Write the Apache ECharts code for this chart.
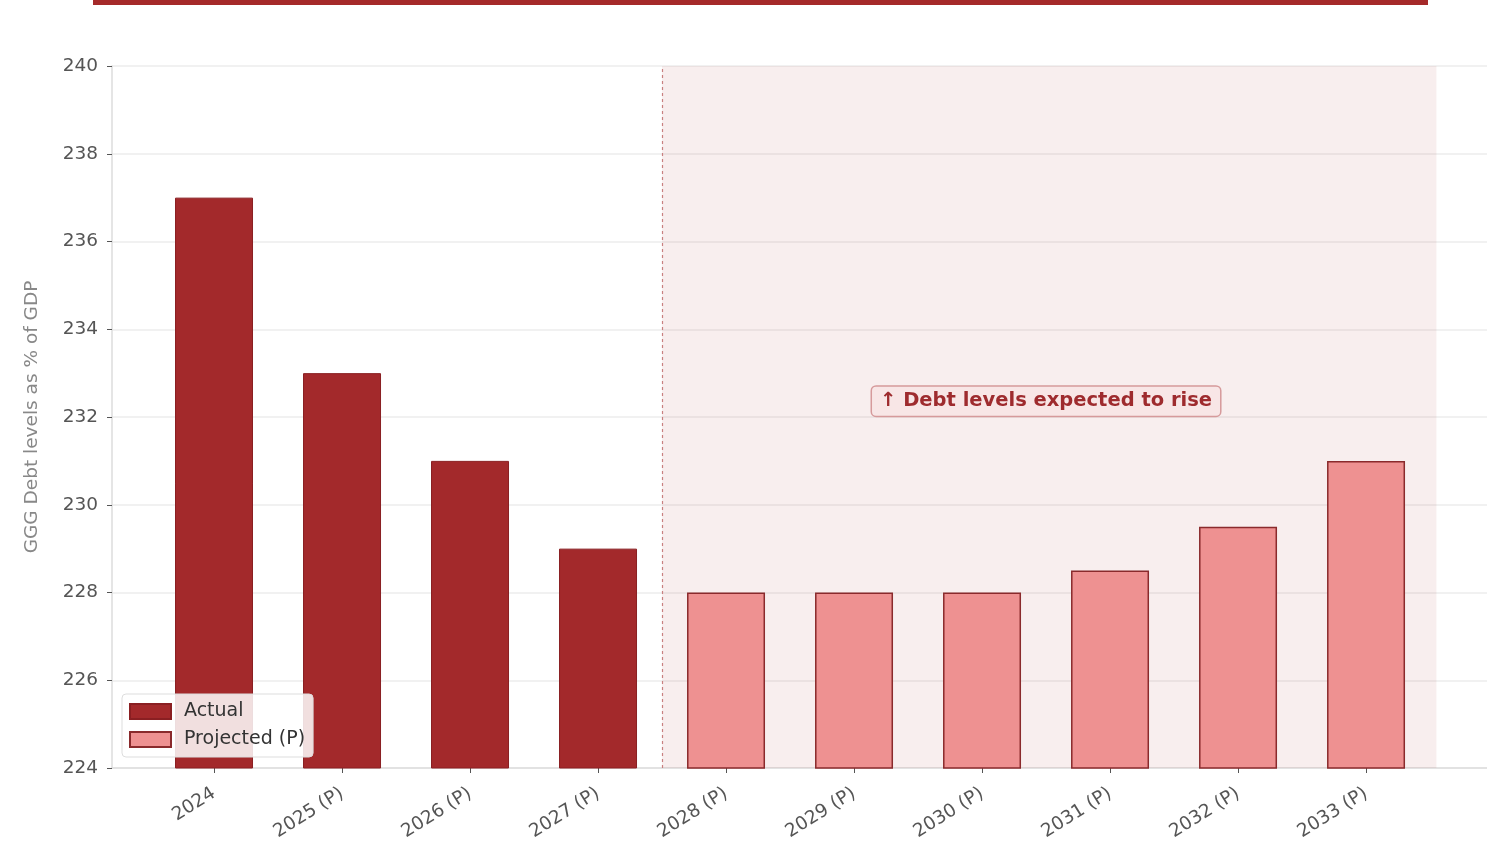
<!DOCTYPE html>
<html>
<head>
<meta charset="utf-8">
<script src="https://cdn.jsdelivr.net/npm/echarts@6/dist/echarts.min.js"></script>
<style>html,body{margin:0;padding:0;background:#fff;}#c{width:1487px;height:849px;}</style>
</head>
<body>
<div id="c"></div>
<script>
const categories = ['2024','2025 (P)','2026 (P)','2027 (P)','2028 (P)','2029 (P)','2030 (P)','2031 (P)','2032 (P)','2033 (P)'];
const values = [237, 233, 231, 229, 228, 228, 228, 228.5, 229.5, 231];
const actualCount = 4;
const yTicks = [224, 226, 228, 230, 232, 234, 236, 238, 240];
const annotationText = '↑ Debt levels expected to rise';
const yTitle = 'GGG Debt levels as % of GDP';

const actualData = [], projData = [];
values.forEach((v, i) => { (i < actualCount ? actualData : projData).push([i, v]); });
const idx = categories.map((_, i) => i);

const chart = echarts.init(document.getElementById('c'));
const font = 'DejaVu Sans';
chart.setOption({
  animation: false,
  textStyle: { fontFamily: font },
  graphic: [{ type: 'rect', shape: { x: 93, y: 0, width: 1335, height: 5 }, style: { fill: '#a52a2a' } }],
  grid: { left: 112, right: 0, top: 66, bottom: 81 },
  legend: {
    left: 122, top: 694, orient: 'vertical', itemGap: 9, icon: 'rect',
    itemWidth: 41, itemHeight: 15, padding: [8, 8, 8, 7],
    backgroundColor: 'rgba(255,255,255,0.85)', borderColor: '#dddddd', borderWidth: 1, borderRadius: 4,
    textStyle: { fontSize: 19, color: '#333', fontFamily: font, padding: [0, 0, 0, 8] },
    data: ['Actual', 'Projected (P)']
  },
  xAxis: {
    type: 'value', min: -0.797, max: 9.945,
    splitLine: { show: false },
    axisLine: { show: true, onZero: false, lineStyle: { color: '#dddddd', width: 1.5 } },
    axisTick: { show: true, customValues: idx, length: 5, lineStyle: { color: '#555' } },
    axisLabel: { customValues: idx, rotate: 32, fontSize: 18.5, color: '#555', margin: 24,
      formatter: v => categories[Math.round(v)] || '' }
  },
  yAxis: {
    type: 'value', min: yTicks[0], max: yTicks[yTicks.length - 1], interval: 2,
    name: yTitle, nameLocation: 'middle', nameGap: 70,
    nameTextStyle: { fontSize: 18.5, color: '#888', fontFamily: font },
    splitLine: { show: true, lineStyle: { color: '#ececec', width: 1.5 } },
    axisLine: { show: true, onZero: false, lineStyle: { color: '#dddddd', width: 1.5 } },
    axisTick: { show: true, length: 5, lineStyle: { color: '#555' } },
    axisLabel: { fontSize: 18.5, color: '#555', margin: 14 }
  },
  series: [
    {
      name: 'shade', type: 'line', data: [], z: 1, silent: true,
      markArea: { silent: true, itemStyle: { color: 'rgba(165,42,42,0.08)' },
        data: [[{ xAxis: 3.5 }, { xAxis: 9.55 }]] },
      markLine: { silent: true, symbol: 'none', label: { show: false },
        lineStyle: { color: '#c98080', type: [3, 3], width: 1.2 },
        data: [{ xAxis: 3.5 }] }
    },
    {
      name: 'Actual', type: 'bar', data: actualData, barWidth: 78, barGap: '-100%', z: 3,
      itemStyle: { color: '#a3292b', borderColor: '#8a1f22', borderWidth: 1 }
    },
    {
      name: 'Projected (P)', type: 'bar', data: projData, barWidth: 78, barGap: '-100%', z: 3,
      itemStyle: { color: '#ee9191', borderColor: '#8a2a2c', borderWidth: 1.5 },
      markPoint: {
        symbol: 'rect', symbolSize: 0, silent: true,
        data: [{ coord: [6.5, 232.36] }],
        label: { show: true, position: 'inside', formatter: annotationText,
          fontSize: 19.5, fontWeight: 'bold', color: '#9e2b2e', fontFamily: font,
          backgroundColor: '#f8e6e6', borderColor: '#d69a9b', borderWidth: 1.5, borderRadius: 4,
          padding: [5, 8, 4, 8] }
      }
    }
  ]
});
</script>
</body>
</html>
